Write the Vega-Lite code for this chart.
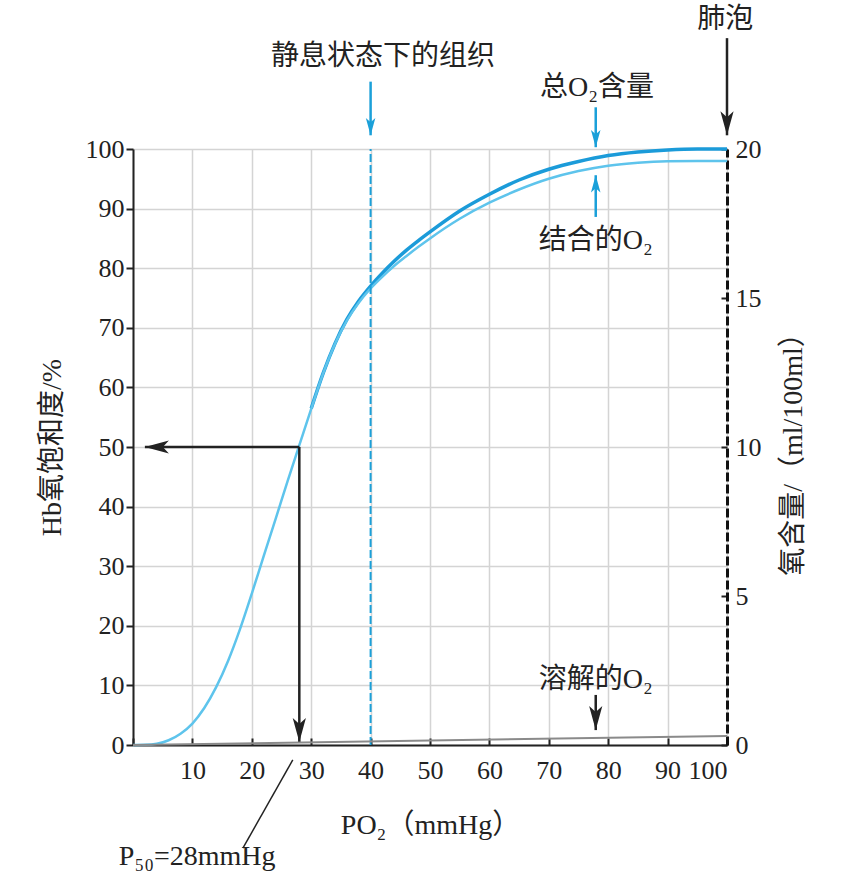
{
  "$schema": "https://vega.github.io/schema/vega-lite/v6.json",
  "width": 594,
  "height": 596,
  "autosize": {"type": "none"},
  "padding": {"left": 133, "top": 149, "right": 138, "bottom": 139},
  "background": "white",
  "config": {
    "view": {"stroke": null},
    "axis": {
      "labelFont": "Liberation Serif",
      "labelFontSize": 26,
      "labelColor": "#222",
      "titleFont": "Liberation Serif, Noto Sans CJK SC",
      "titleFontSize": 28,
      "titleFontWeight": "normal",
      "titleColor": "#222",
      "domainColor": "#222",
      "domainWidth": 2,
      "tickColor": "#222",
      "tickWidth": 2,
      "gridColor": "#d4d4d4",
      "gridWidth": 1.5
    }
  },
  "datasets": {
    "bound": [
      {"p": 0, "s": 0}, {"p": 2, "s": 0.03}, {"p": 4, "s": 0.2}, {"p": 6, "s": 0.8},
      {"p": 8, "s": 1.9}, {"p": 10, "s": 3.6}, {"p": 12, "s": 6.2}, {"p": 14, "s": 9.7},
      {"p": 16, "s": 14.1}, {"p": 18, "s": 19.4}, {"p": 20, "s": 25.4}, {"p": 22, "s": 31.7},
      {"p": 24, "s": 37.9}, {"p": 26, "s": 44.2}, {"p": 28, "s": 50.3}, {"p": 30, "s": 56.4},
      {"p": 32, "s": 62.3}, {"p": 34, "s": 67.3}, {"p": 36, "s": 71.2}, {"p": 38, "s": 74.2},
      {"p": 40, "s": 76.6}, {"p": 42, "s": 78.6}, {"p": 44, "s": 80.4}, {"p": 46, "s": 82.0},
      {"p": 48, "s": 83.55}, {"p": 50, "s": 85.0}, {"p": 55, "s": 88.3}, {"p": 60, "s": 91.0},
      {"p": 65, "s": 93.2}, {"p": 70, "s": 95.0}, {"p": 75, "s": 96.3}, {"p": 80, "s": 97.2},
      {"p": 85, "s": 97.7}, {"p": 90, "s": 97.95}, {"p": 95, "s": 98.0}, {"p": 100, "s": 98.0}
    ],
    "total": [
      {"p": 30, "s": 56.45}, {"p": 32, "s": 62.35}, {"p": 34, "s": 67.35}, {"p": 36, "s": 71.4},
      {"p": 38, "s": 74.5}, {"p": 40, "s": 77.0}, {"p": 42, "s": 79.2}, {"p": 44, "s": 81.2},
      {"p": 46, "s": 83.0}, {"p": 48, "s": 84.6}, {"p": 50, "s": 86.1}, {"p": 55, "s": 89.6},
      {"p": 60, "s": 92.4}, {"p": 65, "s": 94.8}, {"p": 70, "s": 96.6}, {"p": 75, "s": 97.9},
      {"p": 80, "s": 98.9}, {"p": 85, "s": 99.5}, {"p": 90, "s": 99.85}, {"p": 95, "s": 100},
      {"p": 100, "s": 100}
    ],
    "dissolved": [
      {"p": 0, "ml": 0}, {"p": 100, "ml": 0.3}
    ],
    "blackArrows": [
      {"p": 28, "s": 50, "p2": 2, "s2": 50, "dir": "left"},
      {"p": 28, "s": 50, "p2": 28, "s2": 0.5, "dir": "down"},
      {"p": 100, "s": 118.6, "p2": 100, "s2": 102.3, "dir": "down"},
      {"p": 77.9, "s": 8.4, "p2": 77.9, "s2": 2.5, "dir": "down"}
    ],
    "blueArrows": [
      {"p": 40, "s": 111.3, "p2": 40, "s2": 102.3, "dir": "down"},
      {"p": 77.9, "s": 107, "p2": 77.9, "s2": 100.3, "dir": "down"},
      {"p": 77.9, "s": 88.6, "p2": 77.9, "s2": 95.6, "dir": "up"}
    ],
    "pointer": [
      {"p": 26.9, "s": -2.5, "p2": 18.5, "s2": -17.3}
    ],
    "notes": [
      {"t": "静息状态下的组织", "p": 42.1, "s": 115.4},
      {"t": "肺泡", "p": 99.7, "s": 121.6},
      {"t": "总O₂含量", "p": 78.1, "s": 110.2},
      {"t": "结合的O₂", "p": 77.9, "s": 84.6},
      {"t": "溶解的O₂", "p": 77.9, "s": 10.9},
      {"t": "P₅₀=28mmHg", "p": 10.8, "s": -18.8}
    ]
  },
  "layer": [
    {
      "layer": [
        {
          "data": {"name": "total"},
          "mark": {"type": "line", "color": "#1b9bd9", "strokeWidth": 3.5, "interpolate": "monotone"},
          "encoding": {
            "x": {
              "field": "p", "type": "quantitative",
              "scale": {"domain": [0, 100], "nice": false},
              "axis": {
                "title": "PO₂（mmHg）",
                "values": [0, 10, 20, 30, 40, 50, 60, 70, 80, 90, 100],
                "labelExpr": "datum.value == 0 ? '' : datum.label",
                "tickSize": -7,
                "labelPadding": 19,
                "titlePadding": 28
              }
            },
            "y": {
              "field": "s", "type": "quantitative",
              "scale": {"domain": [0, 100], "nice": false},
              "axis": {
                "title": "Hb氧饱和度/%",
                "values": [0, 10, 20, 30, 40, 50, 60, 70, 80, 90, 100],
                "tickSize": 7,
                "labelPadding": 2,
                "titlePadding": 19
              }
            }
          }
        },
        {
          "data": {"name": "bound"},
          "mark": {"type": "line", "color": "#5ec4ec", "strokeWidth": 2.5, "interpolate": "monotone"},
          "encoding": {
            "x": {"field": "p", "type": "quantitative"},
            "y": {"field": "s", "type": "quantitative"}
          }
        },
        {
          "data": {"values": [{"p": 40, "s": 0, "s2": 100}]},
          "mark": {"type": "rule", "color": "#1ba0d9", "strokeWidth": 2, "strokeDash": [8, 3]},
          "encoding": {
            "x": {"field": "p", "type": "quantitative"},
            "y": {"field": "s", "type": "quantitative"},
            "y2": {"field": "s2"}
          }
        },
        {
          "data": {"name": "blackArrows"},
          "mark": {"type": "rule", "color": "#222", "strokeWidth": 2.5},
          "encoding": {
            "x": {"field": "p", "type": "quantitative"},
            "y": {"field": "s", "type": "quantitative"},
            "x2": {"field": "p2"},
            "y2": {"field": "s2"}
          }
        },
        {
          "data": {"name": "blackArrows"},
          "mark": {"type": "point", "filled": true, "color": "#222", "opacity": 1, "size": 576},
          "encoding": {
            "x": {"field": "p2", "type": "quantitative"},
            "y": {"field": "s2", "type": "quantitative"},
            "shape": {
              "field": "dir", "type": "nominal", "legend": null,
              "scale": {
                "domain": ["down", "up", "left"],
                "range": ["M0,0 L-0.55,-2 L0,-1.5 L0.55,-2 Z", "M0,0 L-0.55,2 L0,1.5 L0.55,2 Z", "M0,0 L2,-0.55 L1.5,0 L2,0.55 Z"]
              }
            }
          }
        },
        {
          "data": {"name": "blueArrows"},
          "mark": {"type": "rule", "color": "#1ba0d9", "strokeWidth": 2.5},
          "encoding": {
            "x": {"field": "p", "type": "quantitative"},
            "y": {"field": "s", "type": "quantitative"},
            "x2": {"field": "p2"},
            "y2": {"field": "s2"}
          }
        },
        {
          "data": {"name": "blueArrows"},
          "mark": {"type": "point", "filled": true, "color": "#1ba0d9", "opacity": 1, "size": 300},
          "encoding": {
            "x": {"field": "p2", "type": "quantitative"},
            "y": {"field": "s2", "type": "quantitative"},
            "shape": {
              "field": "dir", "type": "nominal", "legend": null,
              "scale": {
                "domain": ["down", "up", "left"],
                "range": ["M0,0 L-0.55,-2 L0,-1.5 L0.55,-2 Z", "M0,0 L-0.55,2 L0,1.5 L0.55,2 Z", "M0,0 L2,-0.55 L1.5,0 L2,0.55 Z"]
              }
            }
          }
        },
        {
          "data": {"name": "pointer"},
          "mark": {"type": "rule", "color": "#222", "strokeWidth": 1.5},
          "encoding": {
            "x": {"field": "p", "type": "quantitative"},
            "y": {"field": "s", "type": "quantitative"},
            "x2": {"field": "p2"},
            "y2": {"field": "s2"}
          }
        },
        {
          "data": {"name": "notes"},
          "mark": {"type": "text", "font": "Liberation Serif, Noto Sans CJK SC", "fontSize": 28, "color": "#222", "align": "center", "baseline": "middle"},
          "encoding": {
            "x": {"field": "p", "type": "quantitative"},
            "y": {"field": "s", "type": "quantitative"},
            "text": {"field": "t"}
          }
        }
      ]
    },
    {
      "data": {"name": "dissolved"},
      "mark": {"type": "line", "color": "#8a8a8a", "strokeWidth": 2},
      "encoding": {
        "x": {"field": "p", "type": "quantitative"},
        "y": {
          "field": "ml", "type": "quantitative",
          "scale": {"domain": [0, 20], "nice": false},
          "axis": {
            "orient": "right",
            "title": "氧含量/（ml/100ml）",
            "titleAngle": 270,
            "titleBaseline": "top",
            "values": [0, 5, 10, 15, 20],
            "grid": false,
            "tickSize": -6,
            "labelPadding": 14,
            "titlePadding": 18,
            "domainColor": "#111",
            "domainWidth": 3,
            "domainDash": [9, 3]
          }
        }
      }
    }
  ],
  "resolve": {"scale": {"y": "independent"}, "axis": {"y": "independent"}}
}
